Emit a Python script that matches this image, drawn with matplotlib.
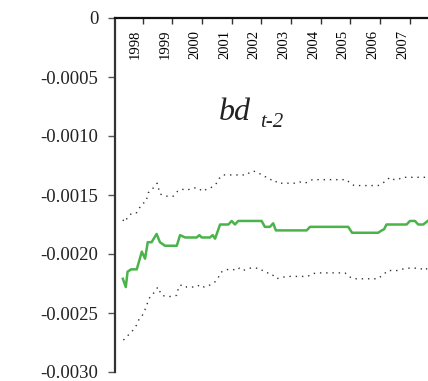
import matplotlib
matplotlib.use("Agg")
import matplotlib.pyplot as plt
from matplotlib.transforms import ScaledTranslation

plt.rcParams["axes.unicode_minus"] = False

# Coefficient path (vertices of the estimate line) and its confidence band
est_years = [1997.33, 1997.43, 1997.49, 1997.61, 1997.80, 1997.97, 1998.08, 1998.17,
             1998.30, 1998.47, 1998.58, 1998.75, 1999.15, 1999.26, 1999.43, 1999.82,
             1999.91, 1999.99, 2000.27, 2000.36, 2000.44, 2000.61, 2000.89, 2001.00,
             2001.11, 2001.22, 2002.01, 2002.12, 2002.29, 2002.40, 2002.49, 2003.53,
             2003.64, 2004.93, 2005.06, 2005.94, 2006.06, 2006.14, 2006.22, 2006.90,
             2007.01, 2007.18, 2007.29, 2007.46, 2007.61]
est_values = [-0.00221, -0.00228, -0.00215, -0.00213, -0.00213, -0.00198, -0.00204, -0.00190,
              -0.00190, -0.00183, -0.00190, -0.00193, -0.00193, -0.00184, -0.00186, -0.00186,
              -0.00184, -0.00186, -0.00186, -0.00184, -0.00187, -0.00175, -0.00175, -0.00172,
              -0.00175, -0.00172, -0.00172, -0.00177, -0.00177, -0.00174, -0.00180, -0.00180,
              -0.00177, -0.00177, -0.00182, -0.00182, -0.00180, -0.00179, -0.00175, -0.00175,
              -0.00172, -0.00172, -0.00175, -0.00175, -0.00172]

upper_years = [1997.33, 1997.40, 1997.51, 1997.66, 1997.80, 1997.89, 1998.00, 1998.11,
               1998.19, 1998.30, 1998.41, 1998.49, 1998.58, 1998.75, 1998.86, 1999.03,
               1999.17, 1999.31, 1999.48, 1999.71, 1999.87, 2000.02, 2000.16, 2000.29,
               2000.40, 2000.49, 2000.58, 2000.70, 2001.51, 2001.64, 2001.79, 2001.95,
               2002.06, 2002.21, 2002.32, 2002.44, 2002.54, 2003.19, 2003.30, 2003.45,
               2003.58, 2003.72, 2004.88, 2004.99, 2005.13, 2005.94, 2006.08, 2006.22,
               2006.33, 2006.48, 2006.61, 2006.75, 2007.61]
upper_values = [-0.00171, -0.00173, -0.00168, -0.00165, -0.00165, -0.00161, -0.00157, -0.00156,
                -0.00148, -0.00146, -0.00142, -0.00140, -0.00149, -0.00151, -0.00151, -0.00151,
                -0.00147, -0.00145, -0.00146, -0.00144, -0.00144, -0.00147, -0.00145, -0.00144,
                -0.00142, -0.00140, -0.00136, -0.00133, -0.00133, -0.00130, -0.00130, -0.00132,
                -0.00134, -0.00135, -0.00137, -0.00137, -0.00140, -0.00140, -0.00139, -0.00140,
                -0.00139, -0.00137, -0.00137, -0.00140, -0.00142, -0.00142, -0.00140, -0.00138,
                -0.00135, -0.00137, -0.00137, -0.00135, -0.00135]

lower_years = [1997.35, 1997.46, 1997.63, 1997.80, 1997.88, 1997.97, 1998.08, 1998.17,
               1998.25, 1998.30, 1998.41, 1998.51, 1998.64, 1998.81, 1998.98, 1999.15,
               1999.22, 1999.37, 1999.48, 1999.65, 1999.82, 1999.93, 2000.07, 2000.21,
               2000.36, 2000.47, 2000.55, 2000.61, 2000.74, 2000.89, 2001.03, 2001.17,
               2001.26, 2001.37, 2001.51, 2001.62, 2001.79, 2001.93, 2002.04, 2002.17,
               2002.29, 2002.44, 2002.52, 2002.63, 2002.91, 2003.56, 2003.70, 2003.86,
               2004.82, 2004.95, 2005.10, 2005.94, 2006.03, 2006.14, 2006.26, 2006.45,
               2006.59, 2006.73, 2006.90, 2007.35, 2007.49, 2007.61]
lower_values = [-0.00273, -0.00270, -0.00266, -0.00260, -0.00255, -0.00253, -0.00247, -0.00241,
                -0.00236, -0.00235, -0.00232, -0.00228, -0.00235, -0.00236, -0.00236, -0.00235,
                -0.00227, -0.00226, -0.00228, -0.00228, -0.00228, -0.00226, -0.00228, -0.00227,
                -0.00225, -0.00223, -0.00220, -0.00216, -0.00214, -0.00213, -0.00213, -0.00214,
                -0.00212, -0.00214, -0.00213, -0.00212, -0.00212, -0.00212, -0.00214, -0.00216,
                -0.00216, -0.00219, -0.00221, -0.00220, -0.00219, -0.00219, -0.00217, -0.00216,
                -0.00216, -0.00219, -0.00221, -0.00221, -0.00219, -0.00217, -0.00214, -0.00214,
                -0.00214, -0.00213, -0.00212, -0.00212, -0.00214, -0.00212]

year_ticks = [1998, 1999, 2000, 2001, 2002, 2003, 2004, 2005, 2006, 2007]
year_labels = [str(y) for y in year_ticks]
y_ticks = [0, -0.0005, -0.0010, -0.0015, -0.0020, -0.0025, -0.0030]
y_labels = ["0", "-0.0005", "-0.0010", "-0.0015", "-0.0020", "-0.0025", "-0.0030"]

serif = ["Liberation Serif", "DejaVu Serif"]

fig = plt.figure(figsize=(4.28, 3.81), dpi=100)
ax = fig.add_axes([115 / 428, 1 - 372 / 381, 313 / 428, 354 / 381])

ax.plot(upper_years, upper_values, color="#333333", lw=1.0,
        linestyle=(0, (1, 3.5)), clip_on=False)
ax.plot(lower_years, lower_values, color="#333333", lw=1.0,
        linestyle=(0, (1, 3.5)), clip_on=False)
ax.plot(est_years, est_values, color="#4ab34a", lw=1.8, clip_on=False)

ax.set_xlim(1997.066, 2007.62)
ax.set_ylim(-0.0030, 0)

for side in ("right", "bottom"):
    ax.spines[side].set_visible(False)
ax.spines["top"].set_linewidth(1.6)
ax.spines["top"].set_color("#111111")
ax.spines["left"].set_linewidth(1.6)
ax.spines["left"].set_color("#333333")

ax.set_xticks(year_ticks)
ax.set_xticklabels(year_labels, family=serif, fontsize=10.5, rotation=90)
ax.tick_params(axis="x", top=True, bottom=False, labeltop=True, labelbottom=False,
               direction="in", length=4.5, width=1.0, color="#333333", pad=-29.5)
# year labels sit a little to the left of their tick marks
shift = ScaledTranslation(-7 / 100, 0, fig.dpi_scale_trans)
for lbl in ax.get_xticklabels(which="major"):
    lbl.set_transform(lbl.get_transform() + shift)

ax.set_yticks(y_ticks)
ax.set_yticklabels(y_labels, family=serif, fontsize=13.5)
ax.tick_params(axis="y", direction="out", length=5, width=1.0, color="#555555",
               pad=7, labelcolor="#222222")

ax.text(0.332, 0.712, "bd", transform=ax.transAxes, family=serif, style="italic",
        fontsize=23, ha="left", va="baseline", color="#222222")
ax.text(0.463, 0.692, "t-2", transform=ax.transAxes, family=serif, style="italic",
        fontsize=15, ha="left", va="baseline", color="#222222")

fig.savefig("out.png", dpi=100)
